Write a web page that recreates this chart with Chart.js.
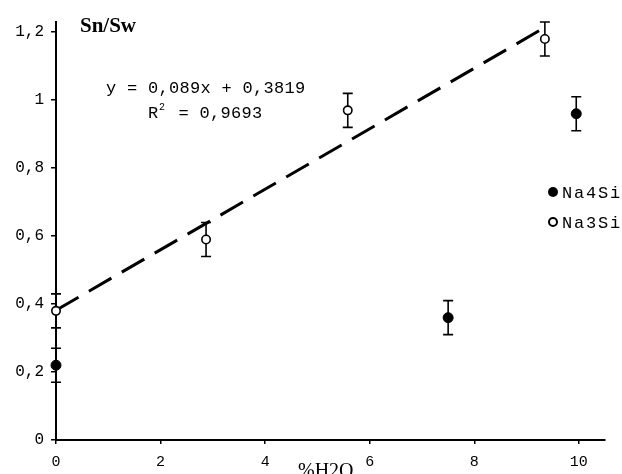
<!DOCTYPE html>
<html>
<head>
<meta charset="utf-8">
<script src="https://cdn.jsdelivr.net/npm/chart.js@4/dist/chart.umd.min.js"></script>
<style>
  html, body { margin: 0; padding: 0; background: #fff; }
  #wrap { width: 622px; height: 474px; position: relative; }
</style>
</head>
<body>
<div id="wrap"><canvas id="c" width="622" height="474"></canvas></div>
<script>
// Sn/Sw ratio versus water content for the two glass compositions
const na4siX = [0, 7.5, 9.95];
const na4siY = [0.22, 0.36, 0.96];
const na4siErr = [0.05, 0.05, 0.05];

const na3siX = [0, 2.87, 5.58, 9.35];
const na3siY = [0.38, 0.59, 0.97, 1.18];
const na3siErr = [0.05, 0.05, 0.05, 0.05];

// Linear fit of the Na3Si series
const fitSlope = 0.089;
const fitIntercept = 0.3819;
const fitR2 = '0,9693';
const fitRange = [0, 9.4];

const xTicks = [0, 2, 4, 6, 8, 10];
const yTicks = [0, 0.2, 0.4, 0.6, 0.8, 1, 1.2];

const fmt = v => String(Math.round(v * 10) / 10).replace('.', ',');
const MONO = '"Liberation Mono", "DejaVu Sans Mono", monospace';
const SERIF = '"Liberation Serif", "DejaVu Serif", serif';

const pts = (xs, ys) => xs.map((x, i) => ({ x, y: ys[i] }));

const errorBars = {
  id: 'errorBars',
  beforeDatasetsDraw(chart) {
    const { ctx, scales: { x, y } } = chart;
    const sets = [[na4siX, na4siY, na4siErr], [na3siX, na3siY, na3siErr]];
    ctx.save();
    ctx.strokeStyle = '#000';
    ctx.lineWidth = 1.6;
    sets.forEach(([xs, ys, es]) => {
      xs.forEach((xv, i) => {
        const px = x.getPixelForValue(xv);
        const top = y.getPixelForValue(ys[i] + es[i]);
        const bot = y.getPixelForValue(ys[i] - es[i]);
        ctx.beginPath();
        ctx.moveTo(px, top); ctx.lineTo(px, bot);
        ctx.moveTo(px - 5, top); ctx.lineTo(px + 5, top);
        ctx.moveTo(px - 5, bot); ctx.lineTo(px + 5, bot);
        ctx.stroke();
      });
    });
    ctx.restore();
  }
};

const annotations = {
  id: 'annotations',
  afterDraw(chart) {
    const { ctx } = chart;
    ctx.save();
    ctx.fillStyle = '#000';
    ctx.textBaseline = 'alphabetic';

    // axis titles
    ctx.font = 'bold 21px ' + SERIF;
    ctx.textAlign = 'left';
    ctx.fillText('Sn/Sw', 80, 32);
    ctx.font = '20px ' + SERIF;
    ctx.fillText('%H2O', 298, 477);

    // fit equation
    ctx.font = '17px ' + MONO;
    ctx.letterSpacing = '0.3px';
    const eq = 'y = ' + String(fitSlope).replace('.', ',') + 'x + ' + String(fitIntercept).replace('.', ',');
    ctx.fillText(eq, 106, 93);
    ctx.fillText('R', 148, 118);
    ctx.font = '10px ' + MONO;
    ctx.fillText('2', 159, 110);
    ctx.font = '17px ' + MONO;
    ctx.fillText(' = ' + fitR2, 168, 118);

    // legend
    const items = [
      { label: chart.data.datasets[0].label, filled: true, y: 192 },
      { label: chart.data.datasets[1].label, filled: false, y: 222 }
    ];
    ctx.textBaseline = 'middle';
    ctx.font = '17px ' + MONO;
    ctx.letterSpacing = '1.8px';
    items.forEach(it => {
      ctx.beginPath();
      ctx.arc(553, it.y, it.filled ? 5 : 4, 0, Math.PI * 2);
      if (it.filled) { ctx.fill(); }
      else { ctx.fillStyle = '#fff'; ctx.fill(); ctx.lineWidth = 2; ctx.strokeStyle = '#000'; ctx.stroke(); ctx.fillStyle = '#000'; }
      ctx.fillText(it.label, 562, it.y + 1);
    });
    ctx.restore();
  }
};

new Chart(document.getElementById('c'), {
  type: 'scatter',
  data: {
    datasets: [
      {
        label: 'Na4Si',
        data: pts(na4siX, na4siY),
        pointRadius: 5,
        pointBackgroundColor: '#000',
        pointBorderColor: '#000',
        pointBorderWidth: 1,
        clip: false,
        order: 1
      },
      {
        label: 'Na3Si',
        data: pts(na3siX, na3siY),
        pointRadius: 4.2,
        pointBackgroundColor: '#fff',
        pointBorderColor: '#000',
        pointBorderWidth: 1.6,
        clip: false,
        order: 1
      },
      {
        type: 'line',
        label: 'fit',
        data: fitRange.map(x => ({ x, y: fitSlope * x + fitIntercept })),
        borderColor: '#000',
        borderWidth: 3,
        borderDash: [26, 12],
        pointRadius: 0,
        fill: false,
        clip: false,
        order: 2
      }
    ]
  },
  options: {
    responsive: false,
    animation: false,
    events: [],
    layout: { padding: { top: 22, right: 17, left: 0, bottom: 0 } },
    plugins: { legend: { display: false }, tooltip: { enabled: false } },
    scales: {
      x: {
        type: 'linear',
        min: 0,
        max: 10.5,
        afterBuildTicks: s => { s.ticks = xTicks.map(v => ({ value: v })); },
        afterFit: s => { s.height = 34; },
        border: { display: true, color: '#000', width: 2 },
        grid: { drawOnChartArea: false, color: '#000', tickColor: '#000', tickLength: 4, lineWidth: 1.5 },
        ticks: {
          color: '#000',
          font: { family: MONO, size: 15 },
          padding: 9,
          maxRotation: 0,
          callback: v => fmt(v)
        }
      },
      y: {
        type: 'linear',
        min: 0,
        max: 1.23,
        afterBuildTicks: s => { s.ticks = yTicks.map(v => ({ value: v })); },
        afterFit: s => { s.width = 56; },
        border: { display: true, color: '#000', width: 2 },
        grid: { drawOnChartArea: false, color: '#000', tickColor: '#000', tickLength: 5, lineWidth: 1.5 },
        ticks: {
          color: '#000',
          font: { family: MONO, size: 16 },
          padding: 7,
          callback: v => fmt(v)
        }
      }
    }
  },
  plugins: [errorBars, annotations]
});
</script>
</body>
</html>
